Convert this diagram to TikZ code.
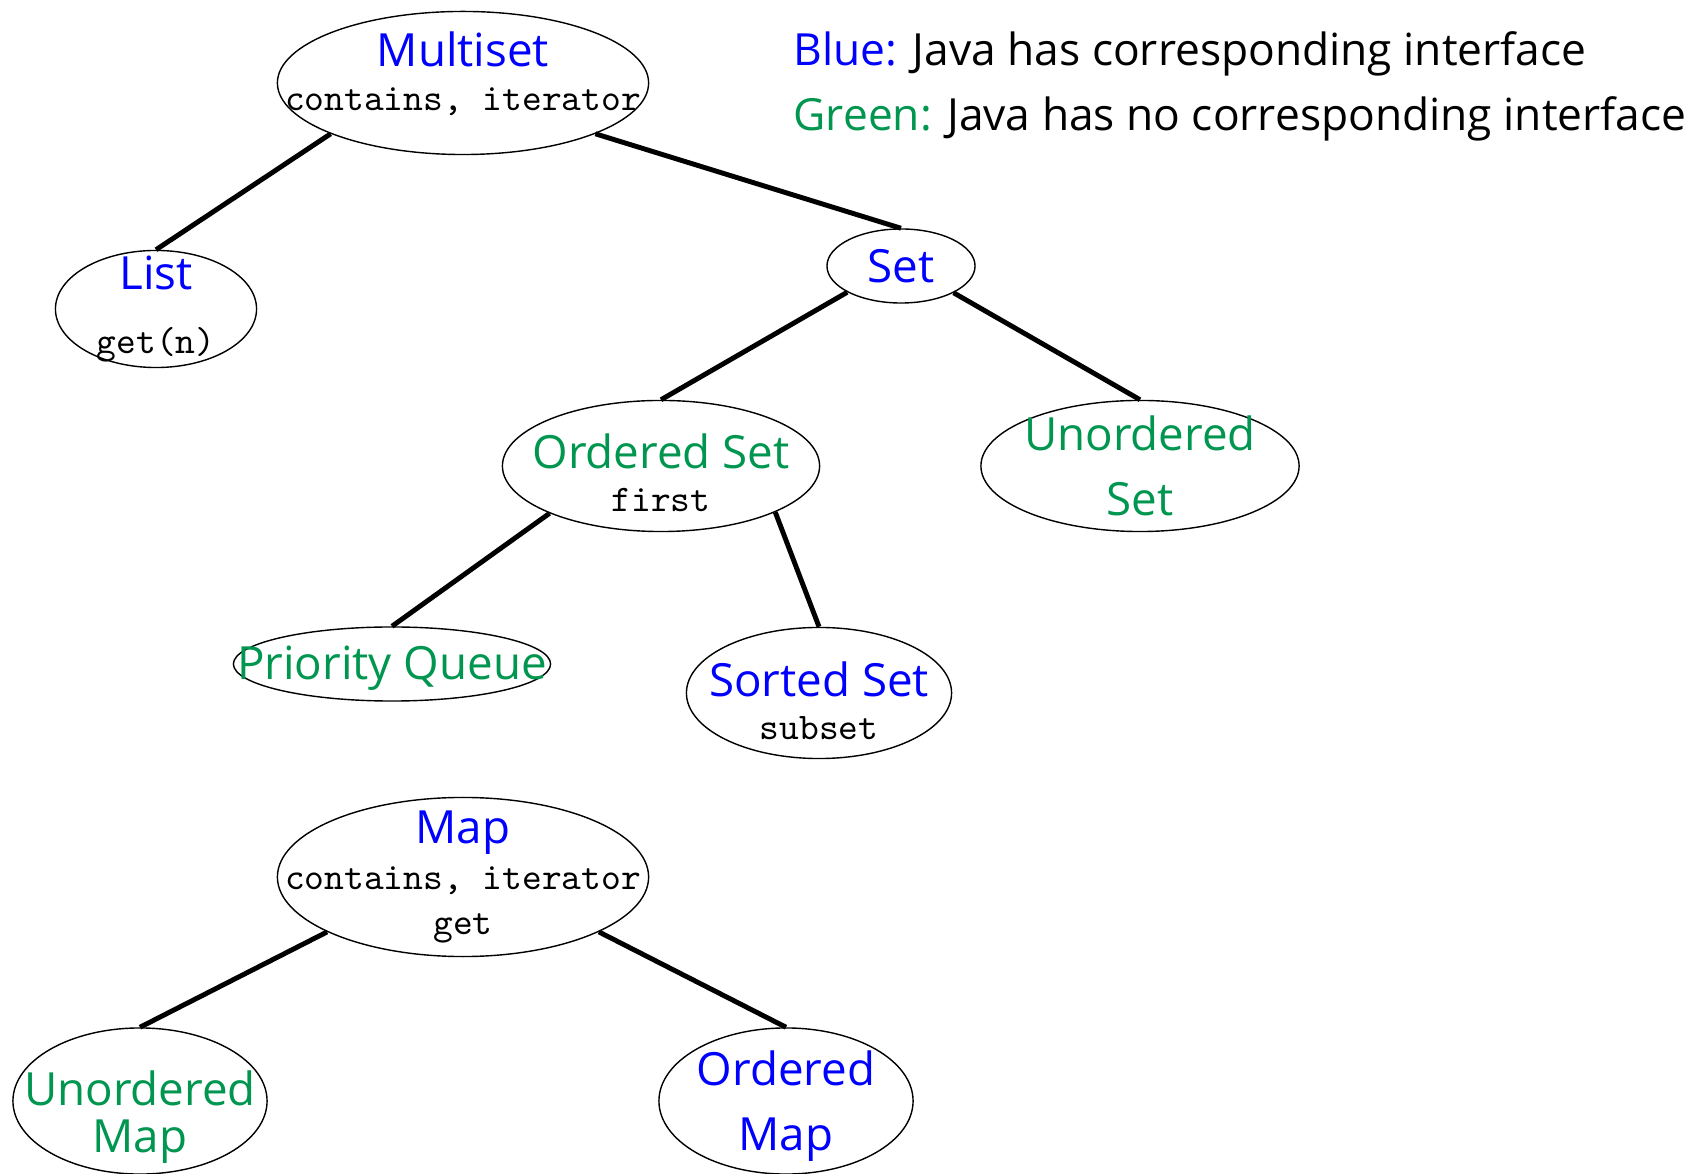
\documentclass[tikz,border=0pt]{standalone}
\usepackage{fontspec}
\setsansfont{Open Sans}
\usepackage{xcolor}
\usepackage{tikz}
\usetikzlibrary{shapes.geometric}

\definecolor{jblue}{RGB}{0,0,255}
\definecolor{jgreen}{RGB}{0,150,80}
\newcommand{\hasjava}[1]{\textcolor{jblue}{#1}}
\newcommand{\nojava}[1]{\textcolor{jgreen}{#1}}
\newcommand{\meth}[1]{{\ttfamily\fontsize{10.7}{12.4}\selectfont #1}}

\begin{document}
\begin{tikzpicture}[x=0.01cm,y=-0.01cm,
  iface/.style={ellipse,draw,line width=0.4pt,inner sep=0pt},
  txt/.style={align=center,inner sep=0pt,font=\sffamily\fontsize{13}{12.4}\selectfont},
  legend/.style={anchor=west,inner sep=0pt,font=\sffamily\fontsize{12.6}{15}\selectfont},
  branch/.style={line width=1.4pt}]
  \useasboundingbox (0,0) rectangle (1704,1174);

  % collections
  \node[iface,minimum width=3.71cm,minimum height=1.43cm,
    label={[txt,yshift=2.6pt]center:\hasjava{Multiset}\\\meth{contains, iterator}}] (ms) at (463,83) {};
  \node[iface,minimum width=2.01cm,minimum height=1.17cm,
    label={[txt]center:\hasjava{List}\\[5.6pt]\meth{get(n)}}] (list) at (156,309) {};
  \node[iface,minimum width=1.48cm,minimum height=0.74cm,
    label={[txt]center:\hasjava{Set}}] (set) at (901,266) {};
  \node[iface,minimum width=3.17cm,minimum height=1.31cm,
    label={[txt,yshift=-1.9pt]center:\nojava{Ordered Set}\\\meth{first}}] (oset) at (661,466) {};
  \node[iface,minimum width=3.18cm,minimum height=1.31cm,
    label={[txt]center:\nojava{Unordered}\\[6.1pt]\nojava{Set}}] (uset) at (1140,466) {};
  \node[iface,minimum width=3.17cm,minimum height=0.74cm,
    label={[txt,yshift=-1.2pt]center:\nojava{Priority Queue}}] (pq) at (392,664) {};
  \node[iface,minimum width=2.65cm,minimum height=1.31cm,
    label={[txt,yshift=-2.2pt]center:\hasjava{Sorted Set}\\\meth{subset}}] (sset) at (819,693) {};

  % maps
  \node[iface,minimum width=3.71cm,minimum height=1.59cm,
    label={[txt]center:\hasjava{Map}\\[0.6pt]\meth{contains, iterator}\\[0.6pt]\meth{get}}] (map) at (463,877) {};
  \node[iface,minimum width=2.54cm,minimum height=1.46cm,
    label={[txt,yshift=-4.6pt]center:\nojava{Unordered}\\[1.2pt]\nojava{Map}}] (umap) at (140,1101) {};
  \node[iface,minimum width=2.54cm,minimum height=1.46cm,
    label={[txt,yshift=-1.5pt]center:\hasjava{Ordered}\\[6.1pt]\hasjava{Map}}] (omap) at (786,1101) {};

  % legend
  \node[legend] (legblue) at (793,54) {\hasjava{Blue:} Java has corresponding interface};
  \node[legend] (leggreen) at (793,119) {\nojava{Green:} Java has no corresponding interface};

  \draw[branch] (ms.201) -- (list.north);
  \draw[branch] (ms.339) -- (set.north);
  \draw[branch] (set.206) -- (oset.north);
  \draw[branch] (set.333) -- (uset.north);
  \draw[branch] (oset.203) -- (pq.north);
  \draw[branch] (oset.338) -- (sset.north);
  \draw[branch] (map.202) -- (umap.north);
  \draw[branch] (map.338) -- (omap.north);
\end{tikzpicture}
\end{document}
